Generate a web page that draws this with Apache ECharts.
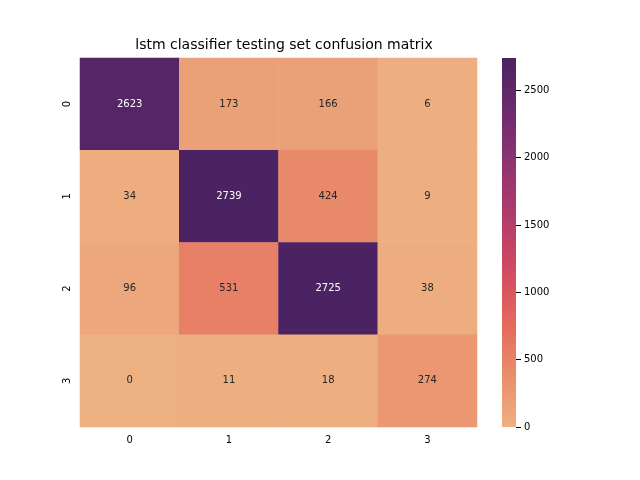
<!DOCTYPE html>
<html><head><meta charset="utf-8">
<script src="https://cdn.jsdelivr.net/npm/echarts@6/dist/echarts.min.js"></script>
<style>html,body{margin:0;padding:0;background:#fff}#c{width:640px;height:480px}</style>
</head><body><div id="c"></div>
<script>
const xLabels = ['0','1','2','3'];
const yLabels = ['0','1','2','3'];
const matrix = [
  [2623, 173, 166, 6],
  [34, 2739, 424, 9],
  [96, 531, 2725, 38],
  [0, 11, 18, 274]
];
const colorbarTicks = [0, 500, 1000, 1500, 2000, 2500];
const vmax = 2739;
const flare = ['#edb081','#e98d6b','#e3685c','#d14a61','#b13c6b','#8f3371','#6c2b6d','#4b2362'];

const data = [];
matrix.forEach((row, i) => row.forEach((v, j) => {
  data.push({value: [j, i, v], label: {color: v > vmax * 0.55 ? '#ffffff' : '#262626'}});
}));
const stops = flare.map((c, i) => ({offset: 1 - i / (flare.length - 1), color: c}));
const chart = echarts.init(document.getElementById('c'));
chart.setOption({
  animation: false,
  textStyle: {fontFamily: 'DejaVu Sans'},
  title: {text: 'lstm classifier testing set confusion matrix', left: 279, top: 33, textAlign: 'center',
    textStyle: {fontSize: 14, fontWeight: 'normal', color: '#000', fontFamily: 'DejaVu Sans'}},
  grid: [{left: 80, top: 58, width: 397, height: 369},
         {left: 502, top: 58, width: 14, height: 369}],
  xAxis: [
    {type: 'category', data: xLabels, gridIndex: 0, axisLine: {show: false},
     axisTick: {alignWithLabel: true, lineStyle: {color: '#000'}}, axisLabel: {color: '#000', fontSize: 10}, splitLine: {show: false}},
    {type: 'category', data: ['c'], gridIndex: 1, show: false}
  ],
  yAxis: [
    {type: 'category', data: yLabels, inverse: true, gridIndex: 0, axisLine: {show: false},
     axisTick: {alignWithLabel: true, lineStyle: {color: '#000'}}, axisLabel: {color: '#000', fontSize: 10, rotate: 90}},
    {type: 'value', gridIndex: 1, position: 'right', min: 0, max: vmax, interval: 500,
     axisLine: {show: false}, axisTick: {show: true, lineStyle: {color: '#000'}}, splitLine: {show: false},
     axisLabel: {color: '#000', fontSize: 10, showMaxLabel: false,
       formatter: v => colorbarTicks.includes(v) ? String(v) : ''}}
  ],
  visualMap: {show: false, min: 0, max: vmax, seriesIndex: 0, inRange: {color: flare}},
  series: [
    {type: 'heatmap', xAxisIndex: 0, yAxisIndex: 0, data: data,
     label: {show: true, fontSize: 10, fontFamily: 'DejaVu Sans'}},
    {type: 'bar', xAxisIndex: 1, yAxisIndex: 1, data: [vmax], barWidth: '100%',
     itemStyle: {color: new echarts.graphic.LinearGradient(0, 0, 0, 1, stops)}, silent: true}
  ]
});
</script></body></html>
